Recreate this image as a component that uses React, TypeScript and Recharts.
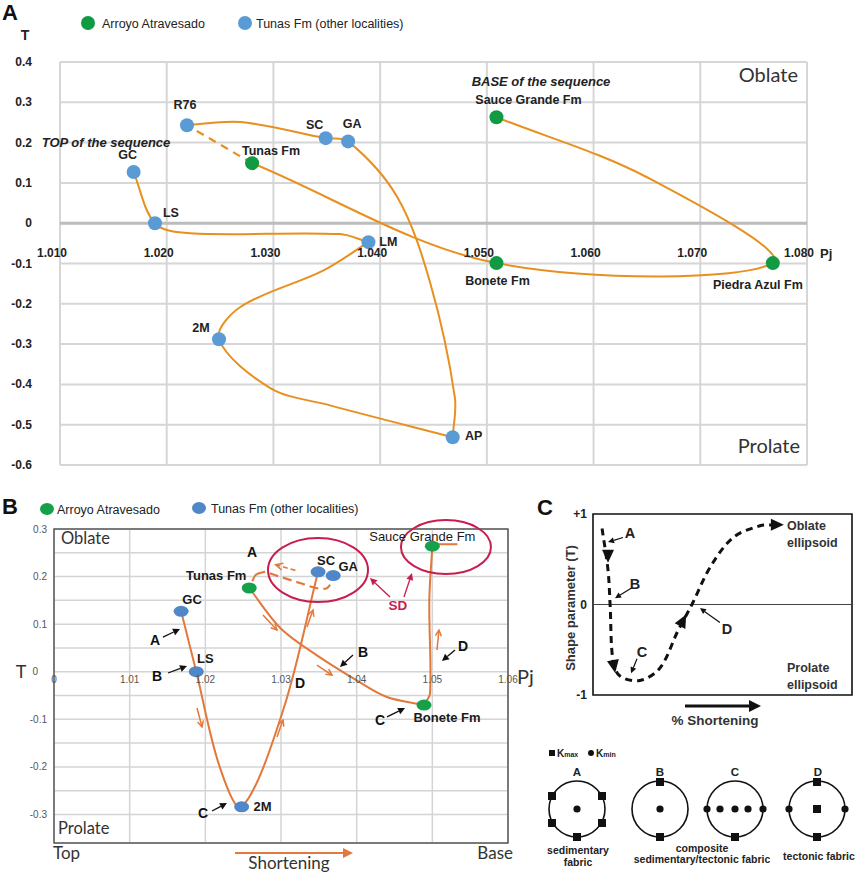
import React from 'react';
import {
  ComposedChart,
  Line,
  Scatter,
  XAxis,
  YAxis,
  CartesianGrid,
  ReferenceLine,
  ReferenceDot,
  ReferenceArea,
} from 'recharts';

const FONT = '"Liberation Sans", Arial, sans-serif';
const SOFT = 'Lato, "Open Sans", sans-serif';

// ---------- panel A : T vs Pj ----------
const aXTicks = [1.01, 1.02, 1.03, 1.04, 1.05, 1.06, 1.07, 1.08];
const aYTicks = [-0.6, -0.5, -0.4, -0.3, -0.2, -0.1, 0, 0.1, 0.2, 0.3, 0.4];

const aArroyo = [
  { name: 'Sauce Grande Fm', pj: 1.0509, t: 0.263 },
  { name: 'Piedra Azul Fm', pj: 1.0768, t: -0.099 },
  { name: 'Bonete Fm', pj: 1.0509, t: -0.099 },
  { name: 'Tunas Fm', pj: 1.028, t: 0.149 },
];
const aTunas = [
  { name: 'GC', pj: 1.0169, t: 0.127 },
  { name: 'LS', pj: 1.0189, t: 0.0 },
  { name: 'R76', pj: 1.0219, t: 0.243 },
  { name: 'SC', pj: 1.0349, t: 0.211 },
  { name: 'GA', pj: 1.037, t: 0.203 },
  { name: 'LM', pj: 1.0389, t: -0.047 },
  { name: '2M', pj: 1.0249, t: -0.288 },
  { name: 'AP', pj: 1.0468, t: -0.531 },
];

// trend line (base -> top)
const aPathBase = [
  { pj: 1.0509, t: 0.263 },
  { pj: 1.065, t: 0.114 },
  { pj: 1.0768, t: -0.099 },
  { pj: 1.0509, t: -0.099 },
  { pj: 1.028, t: 0.149 },
];
const aPathDash = [
  { pj: 1.028, t: 0.149 },
  { pj: 1.0219, t: 0.243 },
];
const aPathUpper = [
  { pj: 1.0219, t: 0.243 },
  { pj: 1.0269, t: 0.251 },
  { pj: 1.0349, t: 0.211 },
  { pj: 1.037, t: 0.203 },
  { pj: 1.0416, t: 0.065 },
  { pj: 1.0447, t: -0.149 },
  { pj: 1.047, t: -0.432 },
  { pj: 1.0468, t: -0.531 },
];
const aPathLoop = [
  { pj: 1.0468, t: -0.531 },
  { pj: 1.0353, t: -0.452 },
  { pj: 1.0297, t: -0.409 },
  { pj: 1.0249, t: -0.288 },
  { pj: 1.0269, t: -0.208 },
  { pj: 1.0347, t: -0.117 },
  { pj: 1.0389, t: -0.047 },
];
const aPathEnd = [
  { pj: 1.0389, t: -0.047 },
  { pj: 1.0362, t: -0.027 },
  { pj: 1.0222, t: -0.025 },
  { pj: 1.0189, t: 0.0 },
  { pj: 1.0169, t: 0.127 },
];

const aLabelPos: Record<string, number[]> = {
  GC: [-6, -17], LS: [16, -10], R76: [-2, -20], 'Tunas Fm': [19, -12], SC: [-11, -13], GA: [4, -17],
  LM: [20, 0], '2M': [-18, -11], AP: [21, -1], 'Bonete Fm': [1, 18], 'Piedra Azul Fm': [-15, 22],
  'Sauce Grande Fm': [32, -17],
};

// ---------- panel B : same data, interpreted ----------
const bXTicks = [1.0, 1.01, 1.02, 1.03, 1.04, 1.05, 1.06];
const bYTicks = [-0.3, -0.25, -0.2, -0.15, -0.1, -0.05, 0, 0.05, 0.1, 0.15, 0.2, 0.25, 0.3];

const bArroyo = [
  { name: 'Sauce Grande Fm', pj: 1.05, t: 0.264 },
  { name: 'Bonete Fm', pj: 1.0489, t: -0.07 },
  { name: 'Tunas Fm', pj: 1.0258, t: 0.176 },
];
const bTunas = [
  { name: 'GC', pj: 1.0168, t: 0.127 },
  { name: 'LS', pj: 1.0188, t: 0 },
  { name: 'SC', pj: 1.0349, t: 0.21 },
  { name: 'GA', pj: 1.0369, t: 0.202 },
  { name: '2M', pj: 1.0248, t: -0.284 },
];

const bPathLeft = [
  { pj: 1.0168, t: 0.127 },
  { pj: 1.0188, t: 0 },
  { pj: 1.0219, t: -0.2 },
  { pj: 1.0248, t: -0.284 },
  { pj: 1.0303, t: -0.08 },
  { pj: 1.0349, t: 0.21 },
];
const bPathMid = [
  { pj: 1.0258, t: 0.176 },
  { pj: 1.0299, t: 0.092 },
  { pj: 1.0347, t: 0.035 },
  { pj: 1.04, t: -0.018 },
  { pj: 1.044, t: -0.053 },
  { pj: 1.0489, t: -0.07 },
];
const bPathRight = [
  { pj: 1.0489, t: -0.07 },
  { pj: 1.0497, t: -0.045 },
  { pj: 1.0496, t: 0.15 },
  { pj: 1.05, t: 0.264 },
];
const bPathHook = [
  { pj: 1.0506, t: 0.268 },
  { pj: 1.0533, t: 0.268 },
];
const bPathCurl = [
  { pj: 1.0262, t: 0.19 },
  { pj: 1.0267, t: 0.204 },
  { pj: 1.0279, t: 0.21 },
];
const bPathLoop = [
  { pj: 1.0285, t: 0.207 },
  { pj: 1.03, t: 0.199 },
  { pj: 1.0326, t: 0.186 },
  { pj: 1.0346, t: 0.176 },
  { pj: 1.036, t: 0.175 },
  { pj: 1.0365, t: 0.183 },
];

const bLabelPos: Record<string, number[]> = {
  GC: [11, -12], LS: [9, -13], 'Tunas Fm': [-33, -12], SC: [8, -11], GA: [15, -9], '2M': [21, 0],
  'Bonete Fm': [23, 12], 'Sauce Grande Fm': [-10, -10],
};

const bPointers = [
  { text: 'A', at: [1.01335, 0.0666], from: [1.0144, 0.0729], to: [1.01665, 0.0897] },
  { text: 'B', at: [1.01361, -0.009], from: [1.01507, -0.0027], to: [1.01758, 0.012] },
  { text: 'C', at: [1.01969, -0.297], from: [1.02088, -0.2927], to: [1.02286, -0.276] },
  { text: 'B', at: [1.04083, 0.0414], from: [1.03951, 0.035], to: [1.03779, 0.0099] },
  { text: 'C', at: [1.04308, -0.1016], from: [1.04401, -0.095], to: [1.04639, -0.0764] },
  { text: 'D', at: [1.05405, 0.054], from: [1.053, 0.0456], to: [1.05127, 0.0225] },
];
const bLetters = [
  { text: 'A', at: [1.02617, 0.2515] },
  { text: 'D', at: [1.03251, -0.0237] },
];
const bFlow = [
  [[1.02762, 0.119], [1.02947, 0.0876]],
  [[1.03343, 0.094], [1.03423, 0.1296]],
  [[1.0189, -0.0763], [1.01956, -0.116]],
  [[1.02947, -0.137], [1.03026, -0.1015]],
  [[1.03476, 0.0141], [1.03674, -0.0069]],
  [[1.05061, 0.0456], [1.05088, 0.0876]],
];
const bSD = [
  [[1.04441, 0.157], [1.04176, 0.1968]],
  [[1.04625, 0.157], [1.04731, 0.2073]],
];
const bRings = [
  { at: [1.03489, 0.2137], rx: 50, ry: 32 },
  { at: [1.0518, 0.262], rx: 45, ry: 27 },
];

// ---------- panel C : schematic path ----------
const cPath = [
  { s: 3.5, t: 0.84 },
  { s: 5.8, t: 0.38 },
  { s: 6.6, t: 0 },
  { s: 7.7, t: -0.62 },
  { s: 10.4, t: -0.79 },
  { s: 18.1, t: -0.84 },
  { s: 25.9, t: -0.7 },
  { s: 32.8, t: -0.29 },
  { s: 38.2, t: 0 },
  { s: 45.2, t: 0.41 },
  { s: 54.1, t: 0.74 },
  { s: 64.5, t: 0.87 },
  { s: 69.5, t: 0.88 },
];
const cHeads = [
  { s: 5.8, t: 0.54, angle: 90 },
  { s: 8.1, t: -0.68, angle: 80 },
  { s: 34.7, t: -0.18, angle: -62 },
  { s: 71, t: 0.88, angle: 0 },
];
const cPointers = [
  { text: 'A', at: [14.3, 0.79], from: [11.6, 0.74], to: [5.8, 0.69] },
  { text: 'B', at: [16.2, 0.23], from: [14.7, 0.18], to: [8.5, 0.07] },
  { text: 'C', at: [18.9, -0.53], from: [17, -0.6], to: [14.7, -0.76] },
  { text: 'D', at: [51.7, -0.27], from: [49, -0.2], to: [41.3, -0.04] },
];

// ---------- fabric sketches ----------
const fabricCenters = [
  { x: 37, y: 79 },
  { x: 120, y: 79 },
  { x: 195, y: 79 },
  { x: 277, y: 79 },
];
const kmaxPoints = [
  { x: 12, y: 66 }, { x: 12, y: 93 }, { x: 62, y: 66 }, { x: 62, y: 93 }, { x: 37, y: 107 },
  { x: 120, y: 52 }, { x: 120, y: 107 },
  { x: 195, y: 107 },
  { x: 277, y: 52 }, { x: 277, y: 79 }, { x: 277, y: 107 },
];
const kminPoints = [
  { x: 37, y: 79 },
  { x: 120, y: 79 },
  { x: 167, y: 79 }, { x: 180, y: 79 }, { x: 195, y: 79 }, { x: 208, y: 79 }, { x: 223, y: 79 },
  { x: 249, y: 79 }, { x: 305, y: 79 },
];

const A_ORANGE = '#E8901E';
const A_GREEN = '#109A42';
const A_BLUE = '#5B9BD5';
const B_ORANGE = '#E2783A';
const B_GREEN = '#16A04A';
const B_BLUE = '#4F87C8';
const CRIMSON = '#C81D4E';

// smooth curve through the points (chord length tangents, like a spreadsheet "smoothed line")
const smooth = (context: any) => {
  let pts: number[][] = [];
  const dist = (a: number[], b: number[]) => Math.hypot(b[0] - a[0], b[1] - a[1]);
  return {
    areaStart() {},
    areaEnd() {},
    lineStart() {
      pts = [];
    },
    point(x: number, y: number) {
      pts.push([+x, +y]);
    },
    lineEnd() {
      const n = pts.length;
      if (!n) return;
      context.moveTo(pts[0][0], pts[0][1]);
      const tan = (i: number) => {
        const p = pts[Math.max(i - 1, 0)];
        const q = pts[Math.min(i + 1, n - 1)];
        const len = dist(p, pts[i]) + dist(pts[i], q) || 1;
        return [(q[0] - p[0]) / len, (q[1] - p[1]) / len];
      };
      for (let i = 0; i < n - 1; i++) {
        const a = pts[i];
        const b = pts[i + 1];
        const l = dist(a, b) / 3;
        const ta = tan(i);
        const tb = tan(i + 1);
        context.bezierCurveTo(a[0] + ta[0] * l, a[1] + ta[1] * l, b[0] - tb[0] * l, b[1] - tb[1] * l, b[0], b[1]);
      }
    },
  };
};

const Arrow = ({ x1, y1, x2, y2, color, width = 1.4, head = 7, open = false, dash }: any) => {
  const ang = Math.atan2(y2 - y1, x2 - x1);
  const c = Math.cos(ang);
  const s = Math.sin(ang);
  const bx = x2 - c * head;
  const by = y2 - s * head;
  const w = head * 0.5;
  const lx = bx + s * w;
  const ly = by - c * w;
  const rx = bx - s * w;
  const ry = by + c * w;
  return (
    <g>
      <line x1={x1} y1={y1} x2={open ? x2 : bx} y2={open ? y2 : by} stroke={color} strokeWidth={width} strokeDasharray={dash} />
      {open ? (
        <polyline points={`${lx},${ly} ${x2},${y2} ${rx},${ry}`} fill="none" stroke={color} strokeWidth={width} />
      ) : (
        <polygon points={`${x2},${y2} ${lx},${ly} ${rx},${ry}`} fill={color} />
      )}
    </g>
  );
};

const pointer = (key: string, from: number[], to: number[], opts: any) => (
  <ReferenceLine
    key={key}
    segment={[{ x: from[0], y: from[1] }, { x: to[0], y: to[1] }]}
    ifOverflow="visible"
    shape={(p: any) => <Arrow x1={p.x1} y1={p.y1} x2={p.x2} y2={p.y2} {...opts} />}
  />
);

const note = (key: string, at: number[], text: string, style: any) => (
  <ReferenceDot
    key={key}
    x={at[0]}
    y={at[1]}
    r={1}
    ifOverflow="visible"
    shape={(p: any) => (
      <text x={p.cx} y={p.cy} textAnchor="middle" dominantBaseline="central" fontFamily={FONT} {...style}>
        {text}
      </text>
    )}
  />
);

const aDot = (fill: string) => (p: any) => {
  const off = aLabelPos[p.payload.name] || [0, -15];
  return (
    <g>
      <circle cx={p.cx} cy={p.cy} r={7} fill={fill} />
      <text x={p.cx + off[0]} y={p.cy + off[1]} textAnchor="middle" dominantBaseline="central"
        fontFamily={FONT} fontSize={12.5} fontWeight={700} fill="#222">
        {p.payload.name}
      </text>
    </g>
  );
};

const bDot = (fill: string) => (p: any) => {
  const off = bLabelPos[p.payload.name] || [0, -14];
  const regular = p.payload.name === 'Sauce Grande Fm';
  return (
    <g>
      <ellipse cx={p.cx} cy={p.cy} rx={7.5} ry={5.5} fill={fill} />
      <text x={p.cx + off[0]} y={p.cy + off[1]} textAnchor="middle" dominantBaseline="central"
        fontFamily={FONT} fontSize={13} fontWeight={regular ? 400 : 700} fill="#1a1a1a">
        {p.payload.name}
      </text>
    </g>
  );
};

const ChartA = () => (
  <ComposedChart width={858} height={478} margin={{ top: 62, right: 51, bottom: 0, left: 0 }}>
    <CartesianGrid stroke="#d6d6d6" strokeWidth={2} />
    <XAxis
      type="number" dataKey="pj" domain={[1.01, 1.08]} ticks={aXTicks} interval={0} allowDataOverflow
      axisLine={false} tickLine={false} height={13}
      tick={(p: any) => (
        <text x={p.x - 8} y={257} textAnchor="middle" fontFamily={FONT} fontSize={12} fontWeight={700} fill="#222">
          {Number(p.payload.value).toFixed(3)}
        </text>
      )}
    />
    <YAxis
      type="number" dataKey="t" domain={[-0.6, 0.4]} ticks={aYTicks} interval={0} allowDataOverflow
      axisLine={false} tickLine={false} width={60}
      tick={(p: any) => (
        <text x={32} y={p.y + 4} textAnchor="end" fontFamily={FONT} fontSize={12} fontWeight={700} fill="#222">
          {p.payload.value === 0 ? '0' : Number(p.payload.value).toFixed(1)}
        </text>
      )}
    />
    <ReferenceLine y={0} stroke="#bcbcbc" strokeWidth={3} />
    <Line data={aPathBase} dataKey="t" type={smooth as any} stroke={A_ORANGE} strokeWidth={2} dot={false} activeDot={false} isAnimationActive={false} />
    <Line data={aPathDash} dataKey="t" type="linear" stroke={A_ORANGE} strokeWidth={2.2} strokeDasharray="8 6" dot={false} activeDot={false} isAnimationActive={false} />
    <Line data={aPathUpper} dataKey="t" type={smooth as any} stroke={A_ORANGE} strokeWidth={2} dot={false} activeDot={false} isAnimationActive={false} />
    <Line data={aPathLoop} dataKey="t" type={smooth as any} stroke={A_ORANGE} strokeWidth={2} dot={false} activeDot={false} isAnimationActive={false} />
    <Line data={aPathEnd} dataKey="t" type={smooth as any} stroke={A_ORANGE} strokeWidth={2} dot={false} activeDot={false} isAnimationActive={false} />
    <Scatter data={aArroyo} fill={A_GREEN} shape={aDot(A_GREEN)} isAnimationActive={false} />
    <Scatter data={aTunas} fill={A_BLUE} shape={aDot(A_BLUE)} isAnimationActive={false} />
  </ComposedChart>
);

const ChartB = () => (
  <ComposedChart width={560} height={394} margin={{ top: 49, right: 52, bottom: 0, left: 0 }}>
    <CartesianGrid stroke="#d4d4d4" strokeWidth={1.5} />
    <XAxis
      type="number" dataKey="pj" domain={[1.0, 1.06]} ticks={bXTicks} interval={0} allowDataOverflow
      axisLine={false} tickLine={false} height={31}
      tick={(p: any) => (
        <text x={p.x} y={203} textAnchor="middle" fontFamily={FONT} fontSize={10} fill="#555">
          {p.payload.value === 1 ? '0' : Number(p.payload.value).toFixed(2)}
        </text>
      )}
    />
    <YAxis
      type="number" dataKey="t" domain={[-0.36, 0.3]} ticks={bYTicks} interval={0} allowDataOverflow
      axisLine={false} tickLine={false} width={54}
      tick={(p: any) => {
        const v = Number(p.payload.value);
        if (Math.abs(v * 10 - Math.round(v * 10)) > 1e-6) return <g />;
        return (
          <text x={v === 0 ? 38 : 47} y={p.y + 3.5} textAnchor="end" fontFamily={FONT} fontSize={10} fill="#555">
            {v === 0 ? '0' : v.toFixed(1)}
          </text>
        );
      }}
    />
    <ReferenceArea x1={1.0} x2={1.06} y1={-0.36} y2={0.3} fill="none" stroke="#595959" strokeWidth={1.5} ifOverflow="visible" />
    <Line data={bPathLeft} dataKey="t" type={smooth as any} stroke={B_ORANGE} strokeWidth={2} dot={false} activeDot={false} isAnimationActive={false} />
    <Line data={bPathMid} dataKey="t" type={smooth as any} stroke={B_ORANGE} strokeWidth={2} dot={false} activeDot={false} isAnimationActive={false} />
    <Line data={bPathRight} dataKey="t" type={smooth as any} stroke={B_ORANGE} strokeWidth={2} dot={false} activeDot={false} isAnimationActive={false} />
    <Line data={bPathHook} dataKey="t" type="linear" stroke={B_ORANGE} strokeWidth={2} dot={false} activeDot={false} isAnimationActive={false} />
    <Line data={bPathCurl} dataKey="t" type={smooth as any} stroke={B_ORANGE} strokeWidth={2} dot={false} activeDot={false} isAnimationActive={false} />
    <Line data={bPathLoop} dataKey="t" type={smooth as any} stroke={B_ORANGE} strokeWidth={2.2} strokeDasharray="9 5" dot={false} activeDot={false} isAnimationActive={false} />
    {pointer('bdash', [1.0319, 0.213], [1.0293, 0.225], { color: B_ORANGE, width: 1.6, head: 7, open: true, dash: '5 3' })}
    {bFlow.map((f, i) => pointer(`bf${i}`, f[0], f[1], { color: B_ORANGE, width: 1.5, head: 6, open: true }))}
    {bPointers.map((p, i) => pointer(`bp${i}`, p.from, p.to, { color: '#111', width: 1.3, head: 7 }))}
    {bPointers.map((p, i) => note(`bt${i}`, p.at, p.text, { fontSize: 14, fontWeight: 700, fill: '#111' }))}
    {bLetters.map((p, i) => note(`bl${i}`, p.at, p.text, { fontSize: 14, fontWeight: 700, fill: '#111' }))}
    {bRings.map((r, i) => (
      <ReferenceDot
        key={`ring${i}`} x={r.at[0]} y={r.at[1]} r={1} ifOverflow="visible"
        shape={(p: any) => <ellipse cx={p.cx} cy={p.cy} rx={r.rx} ry={r.ry} fill="none" stroke={CRIMSON} strokeWidth={2} />}
      />
    ))}
    {bSD.map((f, i) => pointer(`sd${i}`, f[0], f[1], { color: CRIMSON, width: 1.3, head: 7 }))}
    {note('sd', [1.04546, 0.14], 'SD', { fontSize: 13.5, fontWeight: 700, fill: CRIMSON })}
    <Scatter data={bArroyo} fill={B_GREEN} shape={bDot(B_GREEN)} isAnimationActive={false} />
    <Scatter data={bTunas} fill={B_BLUE} shape={bDot(B_BLUE)} isAnimationActive={false} />
  </ComposedChart>
);

const headShape = (angle: number) => (p: any) => {
  const r = (angle * Math.PI) / 180;
  const c = Math.cos(r);
  const s = Math.sin(r);
  const pt = (x: number, y: number) => `${p.cx + x * c - y * s},${p.cy + x * s + y * c}`;
  return <polygon points={`${pt(7, 0)} ${pt(-6, -6)} ${pt(-6, 6)}`} fill="#111" />;
};

const ChartC = () => (
  <ComposedChart width={318} height={250} margin={{ top: 34, right: 6, bottom: 35, left: 0 }}>
    <XAxis type="number" dataKey="s" domain={[0, 100]} allowDataOverflow hide />
    <YAxis
      type="number" dataKey="t" domain={[-1, 1]} ticks={[-1, 0, 1]} interval={0} allowDataOverflow
      axisLine={false} tickLine={false} width={53}
      tick={(p: any) => (
        <text x={47} y={p.y + 4} textAnchor="end" fontFamily={FONT} fontSize={12} fontWeight={700} fill="#222">
          {p.payload.value > 0 ? '+1' : String(p.payload.value)}
        </text>
      )}
    />
    <ReferenceArea x1={0} x2={100} y1={-1} y2={1} fill="none" stroke="#111" strokeWidth={1.6} ifOverflow="visible" />
    <ReferenceLine y={0} stroke="#444" strokeWidth={1} />
    <Line data={cPath} dataKey="t" type={smooth as any} stroke="#111" strokeWidth={3} strokeDasharray="7 5" dot={false} activeDot={false} isAnimationActive={false} />
    {cHeads.map((h, i) => (
      <ReferenceDot key={`ch${i}`} x={h.s} y={h.t} r={1} ifOverflow="visible" shape={headShape(h.angle)} />
    ))}
    {cPointers.map((p, i) => pointer(`cp${i}`, p.from, p.to, { color: '#111', width: 1.2, head: 6 }))}
    {cPointers.map((p, i) => note(`ct${i}`, p.at, p.text, { fontSize: 14.5, fontWeight: 700, fill: '#222' }))}
  </ComposedChart>
);

const ChartD = () => (
  <ComposedChart width={318} height={144} margin={{ top: 0, right: 0, bottom: 0, left: 0 }}>
    <XAxis type="number" dataKey="x" domain={[0, 318]} allowDataOverflow hide />
    <YAxis type="number" dataKey="y" domain={[0, 144]} reversed allowDataOverflow hide />
    {fabricCenters.map((c, i) => (
      <ReferenceDot key={`net${i}`} x={c.x} y={c.y} r={28} fill="none" stroke="#111" strokeWidth={1.6} ifOverflow="visible" />
    ))}
    <Scatter
      data={kmaxPoints} fill="#111" isAnimationActive={false}
      shape={(p: any) => <rect x={p.cx - 4} y={p.cy - 4} width={8} height={8} fill="#111" />}
    />
    <Scatter
      data={kminPoints} fill="#111" isAnimationActive={false}
      shape={(p: any) => <circle cx={p.cx} cy={p.cy} r={3.6} fill="#111" />}
    />
  </ComposedChart>
);

const Overlay = () => (
  <svg width={858} height={874} style={{ position: 'absolute', left: 0, top: 0, pointerEvents: 'none' }} fontFamily={FONT}>
    {/* panel A */}
    <text x={2} y={20} fontSize={22} fontWeight={700} fill="#111">A</text>
    <circle cx={88} cy={23} r={7} fill={A_GREEN} />
    <text x={102} y={27.5} fontSize={12.5} fill="#222">Arroyo Atravesado</text>
    <circle cx={245} cy={23} r={7} fill={A_BLUE} />
    <text x={256} y={27.5} fontSize={12.5} fill="#222">Tunas Fm (other localities)</text>
    <text x={25} y={40} fontSize={14} fontWeight={700} textAnchor="middle" fill="#222">T</text>
    <text x={106} y={146.5} fontSize={13} fontWeight={700} fontStyle="italic" textAnchor="middle" fill="#222">TOP of the sequence</text>
    <text x={541} y={85.5} fontSize={13} fontWeight={700} fontStyle="italic" textAnchor="middle" fill="#222">BASE of the sequence</text>
    <text x={798} y={82} fontFamily={SOFT} fontSize={20} textAnchor="end" fill="#333">Oblate</text>
    <text x={800} y={453} fontFamily={SOFT} fontSize={20} textAnchor="end" fill="#333">Prolate</text>
    <text x={820} y={258} fontSize={13} fontWeight={700} fill="#222">Pj</text>

    {/* panel B */}
    <text x={2} y={514} fontSize={22} fontWeight={700} fill="#111">B</text>
    <ellipse cx={47} cy={509} rx={7} ry={6} fill={B_GREEN} />
    <text x={57} y={513.5} fontSize={12.5} fill="#222">Arroyo Atravesado</text>
    <ellipse cx={199} cy={508} rx={7} ry={6} fill={B_BLUE} />
    <text x={211} y={513} fontSize={12.5} fill="#222">Tunas Fm (other localities)</text>
    <text x={61} y={544} fontFamily={SOFT} fontSize={16.5} fill="#333">Oblate</text>
    <text x={58} y={834} fontFamily={SOFT} fontSize={16.5} fill="#333">Prolate</text>
    <text x={21} y={678} fontFamily={SOFT} fontSize={18} textAnchor="middle" fill="#333">T</text>
    <text x={517} y={684} fontFamily={SOFT} fontSize={20} fill="#333">Pj</text>
    <text x={53} y={859} fontFamily={SOFT} fontSize={17} fill="#333">Top</text>
    <text x={513} y={859} fontFamily={SOFT} fontSize={17} textAnchor="end" fill="#333">Base</text>
    <text x={289} y={869} fontFamily={SOFT} fontSize={17} textAnchor="middle" fill="#333">Shortening</text>
    <Arrow x1={235} y1={853} x2={353} y2={853} color={B_ORANGE} width={2} head={10} />

    {/* panel C */}
    <text x={537} y={515} fontSize={22} fontWeight={700} fill="#111">C</text>
    <text transform="translate(575,608) rotate(-90)" fontSize={13} fontWeight={700} textAnchor="middle" fill="#333">Shape parameter  (T)</text>
    <text x={787} y={530} fontSize={12.5} fontWeight={700} fill="#333">Oblate</text>
    <text x={787} y={547} fontSize={12.5} fontWeight={700} fill="#333">ellipsoid</text>
    <text x={787} y={672} fontSize={12.5} fontWeight={700} fill="#333">Prolate</text>
    <text x={787} y={689} fontSize={12.5} fontWeight={700} fill="#333">ellipsoid</text>
    <Arrow x1={685} y1={706} x2={761} y2={706} color="#111" width={3} head={12} />
    <text x={715} y={725} fontSize={13.5} fontWeight={700} textAnchor="middle" fill="#333">% Shortening</text>

    {/* fabric legend and captions */}
    <rect x={549} y={750} width={6} height={6} fill="#111" />
    <text x={557} y={757} fontSize={10} fontWeight={700} fill="#222">K<tspan fontSize={7}>max</tspan></text>
    <circle cx={591} cy={753} r={3} fill="#111" />
    <text x={596} y={757} fontSize={10} fontWeight={700} fill="#222">K<tspan fontSize={7}>min</tspan></text>
    <text x={577} y={776} fontSize={11.5} fontWeight={700} textAnchor="middle" fill="#222">A</text>
    <text x={660} y={776} fontSize={11.5} fontWeight={700} textAnchor="middle" fill="#222">B</text>
    <text x={735} y={776} fontSize={11.5} fontWeight={700} textAnchor="middle" fill="#222">C</text>
    <text x={818} y={776} fontSize={11.5} fontWeight={700} textAnchor="middle" fill="#222">D</text>
    <text x={578} y={854} fontSize={10.5} fontWeight={700} textAnchor="middle" fill="#222">sedimentary</text>
    <text x={578} y={866} fontSize={10.5} fontWeight={700} textAnchor="middle" fill="#222">fabric</text>
    <text x={702} y={852} fontSize={10.5} fontWeight={700} textAnchor="middle" fill="#222">composite</text>
    <text x={702} y={863} fontSize={10.5} fontWeight={700} textAnchor="middle" fill="#222">sedimentary/tectonic fabric</text>
    <text x={819} y={860} fontSize={10.5} fontWeight={700} textAnchor="middle" fill="#222">tectonic fabric</text>
  </svg>
);

export default function App() {
  return (
    <div style={{ position: 'absolute', left: 0, top: 0, width: 858, height: 874, background: '#fff', fontFamily: FONT }}>
      <div style={{ position: 'absolute', left: 0, top: 0 }}>
        <ChartA />
      </div>
      <div style={{ position: 'absolute', left: 0, top: 480 }}>
        <ChartB />
      </div>
      <div style={{ position: 'absolute', left: 540, top: 480 }}>
        <ChartC />
      </div>
      <div style={{ position: 'absolute', left: 540, top: 730 }}>
        <ChartD />
      </div>
      <Overlay />
    </div>
  );
}
